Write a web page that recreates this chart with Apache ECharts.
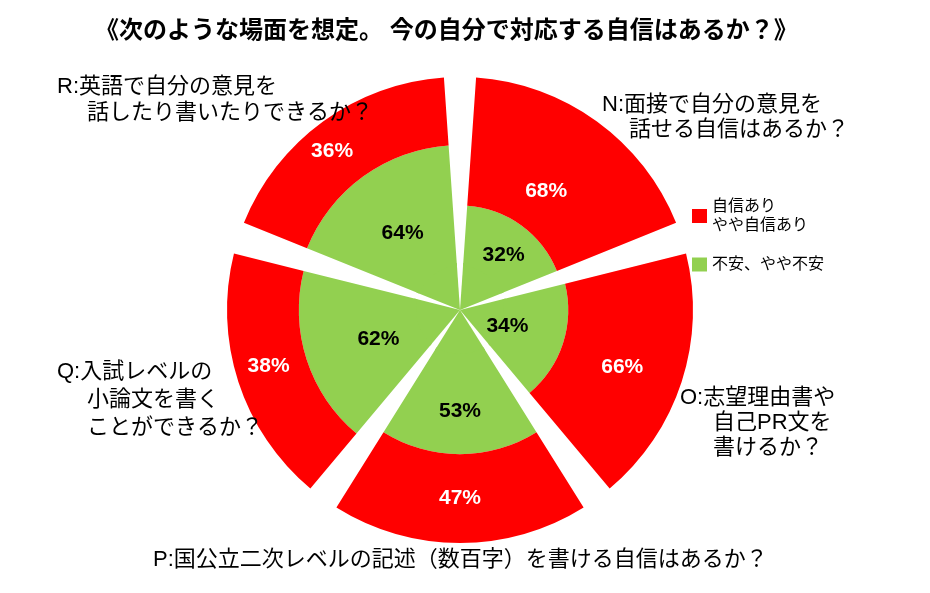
<!DOCTYPE html>
<html lang="ja">
<head>
    <meta charset="UTF-8">
    <title>自信はあるか</title>
    <script src="https://cdn.jsdelivr.net/npm/echarts@6/dist/echarts.min.js"></script>
</head>
<body style="padding: 0; margin: 0">
<div id="main" style="width: 930px; height: 593px;"></div>
<script>
    // data
    var categories = ['N', 'O', 'P', 'Q', 'R'];
    var anxious = [32, 34, 53, 62, 64];      // 不安、やや不安
    var confident = [68, 66, 47, 38, 36];    // 自信あり、やや自信あり
    var seriesNames = ['不安、やや不安', '自信あり\nやや自信あり'];
    var titleText = '《次のような場面を想定。 今の自分で対応する自信はあるか？》';
    var catNotes = [
        ['N:面接で自分の意見を', '話せる自信はあるか？'],
        ['O:志望理由書や', '自己PR文を', '書けるか？'],
        ['P:国公立二次レベルの記述（数百字）を書ける自信はあるか？'],
        ['Q:入試レベルの', '小論文を書く', 'ことができるか？'],
        ['R:英語で自分の意見を', '話したり書いたりできるか？']
    ];

    // layout: first line x, y / indent x of next lines / line step
    var notePos = [
        [602, 105, 629, 25],
        [680, 398, 713, 25],
        [153, 560, 153, 25],
        [57, 372, 87, 28],
        [57, 87, 87, 26]
    ];
    // small nudges of the value labels, px
    var anxOffset = [[0, 5], [-25, -7], [0, 7], [16, -2], [4, 8]];
    var confOffset = [[-13, 18], [0, 4], [0, 0], [-4, -5], [-11, 2]];
    var font = "'Liberation Sans', 'Noto Sans CJK JP', sans-serif";
    var green = '#92D050', red = '#FF0000';

    var graphics = [];
    catNotes.forEach(function (lines, i) {
        var p = notePos[i];
        lines.forEach(function (t, j) {
            graphics.push({
                type: 'text',
                z: 100,
                style: {
                    text: t,
                    x: j === 0 ? p[0] : p[2],
                    y: p[1] + j * p[3],
                    verticalAlign: 'middle',
                    font: '22px ' + font,
                    fill: '#000'
                }
            });
        });
    });

    var hiddenAngle = {
        type: 'category', data: categories, startAngle: 90, clockwise: true,
        axisLine: {show: false}, axisTick: {show: false}, axisLabel: {show: false}, splitLine: {show: false}
    };
    var barLabel = function (color) {
        return {
            show: true, position: 'middle', rotate: 0, formatter: '{c}%',
            color: color, fontSize: 21, fontWeight: 'bold', fontFamily: font
        };
    };
    var withOffset = function (values, offsets) {
        return values.map(function (v, i) {
            return {value: v, label: {offset: offsets[i]}};
        });
    };

    var myChart = echarts.init(document.getElementById('main'));
    var option = {
        animation: false,
        backgroundColor: '#fff',
        title: {
            text: titleText, left: 90, top: 14,
            textStyle: {fontSize: 24, fontWeight: 'bold', color: '#000', fontFamily: font}
        },
        legend: {
            data: [seriesNames[1], seriesNames[0]],
            orient: 'vertical', left: 692, top: 197, padding: 0,
            icon: 'rect', itemWidth: 15, itemHeight: 14, itemGap: 20,
            selectedMode: false,
            textStyle: {fontSize: 16, color: '#000', fontFamily: font, lineHeight: 19}
        },
        polar: [
            {center: [460, 310], radius: [44, 233]},
            {center: [460, 310], radius: [0, 47]}
        ],
        angleAxis: [
            Object.assign({polarIndex: 0}, hiddenAngle),
            Object.assign({polarIndex: 1}, hiddenAngle)
        ],
        radiusAxis: [
            {polarIndex: 0, type: 'value', min: 0, max: 100, show: false},
            {polarIndex: 1, type: 'value', min: 0, max: 1, show: false}
        ],
        graphic: graphics,
        series: [
            {
                name: seriesNames[0], type: 'bar', coordinateSystem: 'polar', polarIndex: 0,
                stack: 'a', data: withOffset(anxious, anxOffset), barCategoryGap: '11%',
                itemStyle: {color: green},
                label: barLabel('#000'), z: 2
            },
            {
                name: seriesNames[1], type: 'bar', coordinateSystem: 'polar', polarIndex: 0,
                stack: 'a', data: withOffset(confident, confOffset), barCategoryGap: '11%',
                itemStyle: {color: red},
                label: barLabel('#fff'), z: 2
            },
            {
                // inner tip of the green wedges
                name: 'core', type: 'bar', coordinateSystem: 'polar', polarIndex: 1,
                data: categories.map(function () { return 1; }), barCategoryGap: '11%',
                itemStyle: {color: green},
                silent: true, z: 1
            }
        ]
    };
    myChart.setOption(option);
</script>
</body>
</html>
